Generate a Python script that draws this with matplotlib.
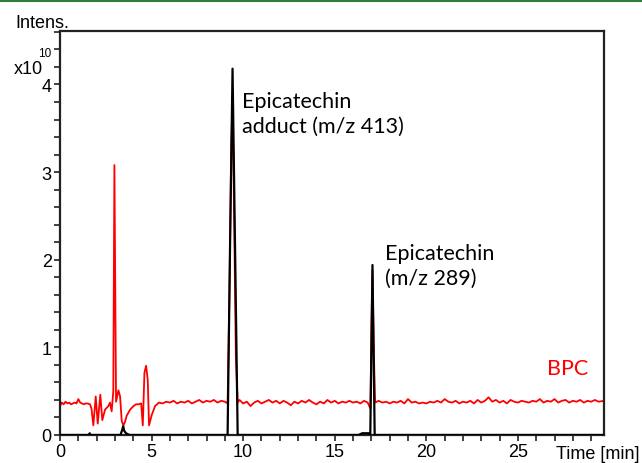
import numpy as np
import matplotlib
matplotlib.use("Agg")
import matplotlib.pyplot as plt
from matplotlib.ticker import MultipleLocator
from matplotlib.lines import Line2D

# ---- data ----
black_t = [0.0, 1.58, 1.62, 1.66, 3.30, 3.40, 3.45, 3.50, 3.60, 3.70, 3.80,
           9.15, 9.28, 9.42, 9.56, 9.70, 16.30, 16.50, 16.85, 16.94, 17.06,
           17.18, 17.28, 29.7]
black_v = [0.0, 0.0, 0.02, 0.0, 0.0, 0.06, 0.10, 0.05, 0.02, 0.01, 0.0,
           0.0, 2.10, 4.18, 2.10, 0.0, 0.0, 0.02, 0.02, 0.0, 1.94,
           0.0, 0.0, 0.0]

red_t = [0.0, 0.1, 0.2, 0.3, 0.4, 0.5, 0.6, 0.7, 0.8, 0.9, 1.0, 1.1, 1.2, 1.3,
         1.4, 1.5, 1.64, 1.72, 1.82, 1.95, 2.06, 2.20, 2.31, 2.46, 2.55, 2.64,
         2.73, 2.82, 2.91, 2.97, 3.06, 3.19, 3.28, 3.37, 3.46, 3.55, 3.64, 3.83,
         4.01, 4.15, 4.28, 4.43, 4.52, 4.61, 4.70, 4.79, 4.86, 5.01, 5.19, 5.4,
         5.6, 5.8, 6.0, 6.2, 6.4, 6.6, 6.8, 7.0, 7.2, 7.4, 7.6, 7.8, 8.0, 8.2,
         8.4, 8.6, 8.8, 9.0, 9.15, 9.25, 9.35, 9.42, 9.50, 9.60, 9.70, 9.8,
         10.0, 10.2, 10.4, 10.6, 10.8, 11.0, 11.2, 11.4, 11.6, 11.8, 12.0, 12.2,
         12.4, 12.6, 12.8, 13.0, 13.2, 13.4, 13.6, 13.8, 14.0, 14.2, 14.4, 14.6,
         14.8, 15.0, 15.2, 15.4, 15.6, 15.8, 16.0, 16.2, 16.4, 16.6, 16.8,
         16.95, 17.00, 17.06, 17.12, 17.20, 17.4, 17.6, 17.8, 18.0, 18.2, 18.4,
         18.6, 18.8, 19.0, 19.2, 19.4, 19.6, 19.8, 20.0, 20.2, 20.4, 20.6, 20.8,
         21.0, 21.2, 21.4, 21.6, 21.8, 22.0, 22.2, 22.4, 22.6, 22.8, 23.0, 23.2,
         23.4, 23.6, 23.8, 24.0, 24.2, 24.4, 24.6, 24.8, 25.0, 25.2, 25.4, 25.6,
         25.8, 26.0, 26.2, 26.4, 26.6, 26.8, 27.0, 27.2, 27.4, 27.6, 27.8, 28.0,
         28.2, 28.4, 28.6, 28.8, 29.0, 29.2, 29.4, 29.7]
red_v = [0.33, 0.37, 0.35, 0.38, 0.36, 0.37, 0.35, 0.36, 0.37, 0.36, 0.41, 0.37,
         0.36, 0.35, 0.36, 0.36, 0.35, 0.30, 0.11, 0.44, 0.13, 0.46, 0.17, 0.29,
         0.31, 0.33, 0.37, 0.27, 0.50, 3.08, 0.38, 0.51, 0.44, 0.16, 0.11, 0.15,
         0.22, 0.29, 0.33, 0.35, 0.35, 0.36, 0.11, 0.71, 0.79, 0.63, 0.11, 0.23,
         0.33, 0.37,
         0.36, 0.38, 0.37, 0.39, 0.36, 0.38, 0.37, 0.39, 0.36, 0.38, 0.40, 0.37,
         0.39, 0.38, 0.40, 0.37, 0.39, 0.38, 0.36, 1.60, 3.30, 3.83, 2.60, 0.90,
         0.37, 0.40, 0.36, 0.38, 0.33, 0.37, 0.39, 0.36, 0.38, 0.40, 0.37, 0.39,
         0.36, 0.39, 0.37, 0.34, 0.38, 0.36, 0.39, 0.37, 0.40, 0.37, 0.35, 0.38,
         0.36, 0.40, 0.37, 0.39, 0.36, 0.38, 0.37, 0.39, 0.37, 0.38, 0.36, 0.39,
         0.37, 0.30, 1.20, 1.88, 1.10, 0.37, 0.39, 0.37, 0.38, 0.36, 0.38, 0.37,
         0.39, 0.36, 0.41, 0.37, 0.38, 0.36, 0.37, 0.36, 0.38, 0.37, 0.39, 0.37,
         0.41, 0.38, 0.37, 0.39, 0.36, 0.38, 0.37, 0.39, 0.36, 0.40, 0.37, 0.39,
         0.43, 0.38, 0.40, 0.37, 0.39, 0.36, 0.40, 0.38, 0.37, 0.39, 0.38, 0.37,
         0.39, 0.38, 0.41, 0.37, 0.39, 0.38, 0.41, 0.37, 0.39, 0.40, 0.37, 0.39,
         0.38, 0.40, 0.37, 0.39, 0.38, 0.40, 0.38, 0.39]

x_major = [0, 5, 10, 15, 20, 25]
y_major = [0, 1, 2, 3, 4]

# ---- figure ----
fig = plt.figure(figsize=(6.42, 4.64), dpi=100)
ax = fig.add_axes([60/642, 28/464, 544/642, 404/464])

ax.plot(red_t, red_v, color="#ff0000", lw=1.3, zorder=2)
ax.plot(black_t, black_v, color="black", lw=1.6, zorder=3)

ax.set_xlim(0, 29.7)
ax.set_ylim(0, 4.61)
ax.set_xticks(x_major)
ax.set_yticks(y_major)
ax.xaxis.set_minor_locator(MultipleLocator(1))
ax.yaxis.set_minor_locator(MultipleLocator(0.2))
ax.tick_params(which="both", direction="out", length=4, width=1.2, color="#222222")
ax.tick_params(labelsize=13, pad=2)
for lab in ax.get_xticklabels() + ax.get_yticklabels():
    lab.set_family("Liberation Sans")
for s in ax.spines.values():
    s.set_linewidth(1.6)
    s.set_color("#222222")

# labels
fig.text(15/642, 1 - 23/464, "Intens.", fontsize=13, family="Liberation Sans",
         va="center", ha="left")
fig.text(14/642, 1 - 70/464, "x10", fontsize=13, family="Liberation Sans",
         va="center", ha="left")
fig.text(38/642, 1 - 54/464, "10", fontsize=8.5, family="Liberation Sans",
         va="center", ha="left")
fig.text(640/642, 1 - 455/464, "Time [min]", fontsize=13, family="Liberation Sans",
         va="center", ha="right")

ax.text(9.95, 3.67, "Epicatechin\nadduct (m/z 413)", fontsize=15.5, family="Lato",
        va="center", ha="left", linespacing=1.3)
ax.text(17.75, 1.94, "Epicatechin\n(m/z 289)", fontsize=15.5, family="Lato",
        va="center", ha="left", linespacing=1.3)
ax.text(26.6, 0.77, "BPC", fontsize=15.5, family="Lato", color="#ff0000",
        va="center", ha="left")

# green rule at top
fig.add_artist(Line2D([0, 1], [1 - 1/464, 1 - 1/464], color="#2e7d3f", lw=2.2,
                      transform=fig.transFigure))

fig.savefig("out.png", dpi=100)
